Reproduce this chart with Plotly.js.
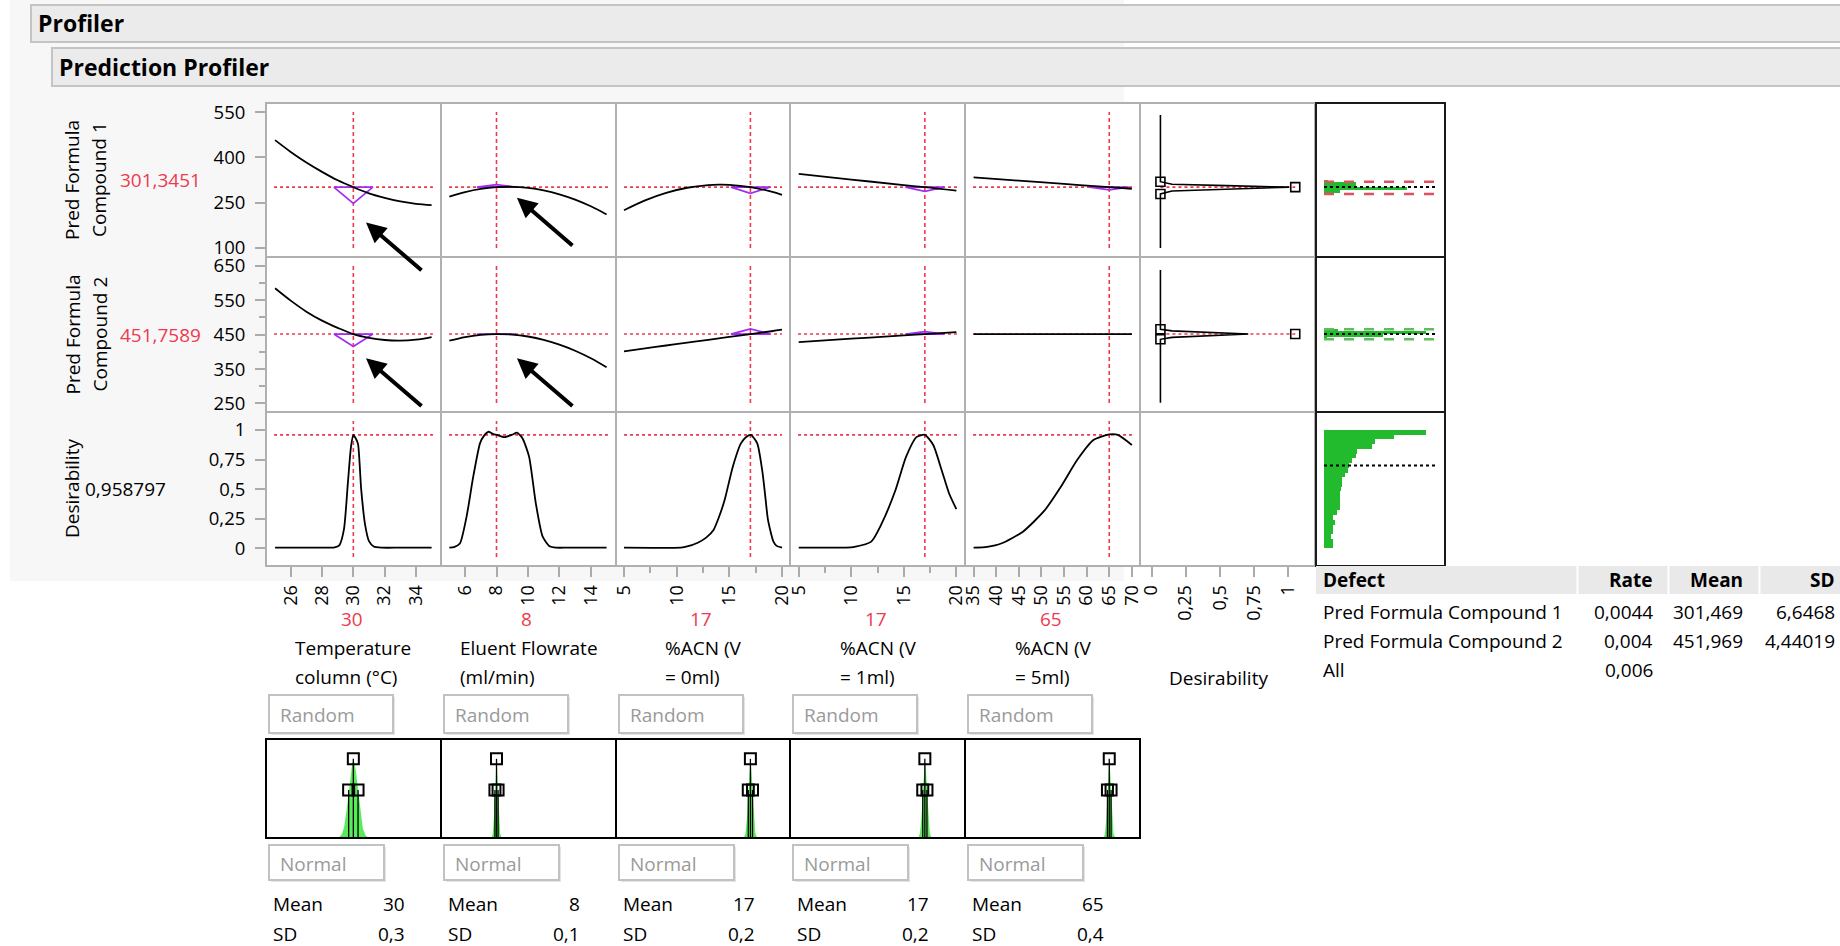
<!DOCTYPE html>
<html>
<head>
<meta charset="utf-8">
<script src="https://cdn.plot.ly/plotly-3.0.1.min.js"></script>
<style>
  html, body { margin: 0; padding: 0; background: #ffffff; }
  #chart { width: 1840px; height: 946px; }
</style>
</head>
<body>
<div id="chart"></div>
<script>
// ---------------- factors ----------------
const factorLine1 = ['Temperature', 'Eluent Flowrate', '%ACN (V', '%ACN (V', '%ACN (V'];
const factorLine2 = ['column (°C)', '(ml/min)', '= 0ml)', '= 1ml)', '= 5ml)'];
const currentX = [30, 8, 17, 17, 65];
const currentText = ['30', '8', '17', '17', '65'];
const simMean = [30, 8, 17, 17, 65];
const simSD = [0.3, 0.1, 0.2, 0.2, 0.4];
const simMeanText = ['30', '8', '17', '17', '65'];
const simSDText = ['0,3', '0,1', '0,2', '0,2', '0,4'];

// ---------------- responses ----------------
const responseLine1 = ['Pred Formula', 'Pred Formula', 'Desirability'];
const responseLine2 = ['Compound 1', 'Compound 2', ''];
const responseValue = [301.3451, 451.7589, 0.958797];
const responseText = ['301,3451', '451,7589', '0,958797'];

// ---------------- prediction traces ----------------
const c1X = [25, 26, 27, 28, 29, 30, 31, 32, 33, 34, 35];
const c1Comp1 = [457, 418, 383, 352, 324, 301.3, 281, 266, 254, 246, 242];
const c1Comp2 = [585, 549, 517, 491, 470, 451.8, 441, 434.5, 432.5, 435.5, 443];

const c2X = [5, 6, 7, 8, 9, 10, 11, 12, 13, 14, 15];
const c2Comp1 = [270, 285, 295.5, 301.3, 302.4, 298.8, 290.6, 277.7, 260.1, 237.9, 211];
const c2Comp2 = [432.5, 443, 449.5, 451.8, 450.4, 444.7, 435, 421, 403.3, 381.3, 355];

const c3X = [5, 7, 9, 11, 13, 14, 15, 17, 19, 20];
const c3Comp1 = [225, 257.7, 282.5, 299.3, 308.1, 309.5, 308.9, 301.3, 286.5, 276];
const c3Comp2 = [401.5, 410, 418.5, 427, 435, 439, 443.5, 451.8, 460, 464.5];

const c4X = [5, 10, 15, 17, 20];
const c4Comp1 = [345, 326.5, 308, 301.3, 289.5];
const c4Comp2 = [428.6, 438.3, 448, 451.8, 457.7];

const c5X = [35, 45, 55, 65, 70];
const c5Comp1 = [334, 323, 312, 301.3, 296];
const c5Comp2 = [451.8, 451.8, 451.8, 451.8, 451.8];

// desirability traces
const d1X = [25, 26, 27, 28, 28.8, 29.1, 29.4, 29.65, 29.85, 30, 30.15, 30.3, 30.5, 30.75, 31, 31.3, 31.8, 33, 35];
const d1Y = [0.005, 0.005, 0.005, 0.005, 0.008, 0.025, 0.16, 0.55, 0.86, 0.959, 0.93, 0.88, 0.5, 0.2, 0.06, 0.015, 0.005, 0.005, 0.005];
const d2X = [5, 5.3, 5.67, 6.1, 6.52, 6.95, 7.2, 7.5, 7.8, 8.03, 8.5, 9.0, 9.3, 9.65, 10.07, 10.5, 10.93, 11.35, 11.8, 12.5, 15];
const d2Y = [0.005, 0.01, 0.04, 0.27, 0.605, 0.887, 0.95, 0.985, 0.965, 0.959, 0.94, 0.96, 0.977, 0.93, 0.775, 0.38, 0.10, 0.02, 0.005, 0.005, 0.005];
const d3X = [5, 10.4, 11, 12, 12.8, 13.5, 14, 14.56, 15.33, 16.1, 16.6, 17.03, 17.65, 18.16, 18.4, 18.67, 19.19, 19.5, 20];
const d3Y = [0.005, 0.006, 0.015, 0.047, 0.09, 0.155, 0.26, 0.41, 0.69, 0.887, 0.94, 0.959, 0.887, 0.634, 0.45, 0.24, 0.056, 0.02, 0.005];
const d4X = [5, 9.5, 10.3, 11.9, 12.9, 14.2, 15.2, 16.2, 17.0, 17.8, 18.6, 19.3, 20];
const d4Y = [0.005, 0.006, 0.012, 0.056, 0.21, 0.49, 0.77, 0.94, 0.959, 0.873, 0.66, 0.465, 0.33];
const d5X = [35, 38, 41.1, 45.9, 50.7, 54.3, 57.9, 61.5, 65, 66.9, 70];
const d5Y = [0.005, 0.012, 0.04, 0.14, 0.32, 0.52, 0.746, 0.915, 0.962, 0.958, 0.873];

// desirability functions (desirability vs response)
const dfComp1Resp = [100, 278.7, 288.6, 295.5, 301.3, 306.5, 310.8, 319.4, 540];
const dfComp1Des  = [0.065, 0.065, 0.15, 0.55, 1.01, 0.55, 0.15, 0.065, 0.065];
const dfComp2Resp = [252, 436.5, 442, 451.8, 461, 465.6, 638];
const dfComp2Des  = [0.065, 0.065, 0.15, 0.71, 0.15, 0.065, 0.065];
const dfHandleDes = [0.065, 0.065, 1.055];
const specComp1 = [278.7, 301.3, 319.4];   // low, target, high
const specComp2 = [436.5, 451.8, 465.6];

// simulated distributions
const histComp1Mid = [287.5, 296.5, 305.5, 314, 322];
const histComp1Cnt = [16, 83, 32, 32, 3.5];
const histComp1Bin = 8.6;
const histComp2Mid = [440.2, 448, 455.9, 463.6];
const histComp2Cnt = [3, 59, 102, 14];
const histComp2Bin = 7.8;
const simMeanComp = [301.469, 451.969];
const histDesMid = [0.98, 0.94, 0.90, 0.86, 0.82, 0.78, 0.74, 0.70, 0.66, 0.62, 0.58, 0.54, 0.50, 0.46, 0.42, 0.38, 0.34, 0.30, 0.26, 0.22, 0.18, 0.14, 0.10, 0.06, 0.02];
const histDesCnt = [102, 70, 51, 48, 33, 32, 28, 25, 24, 21, 18, 18, 17, 16, 16, 16, 16, 13, 9, 11, 9, 9, 7, 9, 9];
const histDesBin = 0.04;
const simMeanDes = 0.70;

// defect table
const tableHead = ['Defect', 'Rate', 'Mean', 'SD'];
const tableRows = [
  ['Pred Formula Compound 1', '0,0044', '301,469', '6,6468'],
  ['Pred Formula Compound 2', '0,004', '451,969', '4,44019'],
  ['All', '0,006', '', '']
];

// ---------------- geometry ----------------
const W = 1840, H = 946;
const FONT = '"Open Sans", "Segoe UI", sans-serif';
const fx = p => p / W;
const fy = p => 1 - p / H;
const panelLeft  = [266, 441, 616, 790, 965, 1140, 1316];
const panelRight = [441, 616, 790, 965, 1140, 1315, 1445];
const rowTop = [103, 257, 412];
const rowBottom = [257, 412, 566];
const simTop = 739, simBottom = 838;

const xRanges = [[24.42, 35.6], [4.47, 15.6], [4.24, 20.76], [4.17, 20.82], [33.1, 71.8], [-0.085, 1.2], [-8, 121]];
const yRanges = [[70, 580], [225, 676], [-0.15, 1.152], [0, 1]];
const xTicks = [[26, 28, 30, 32, 34], [6, 8, 10, 12, 14], [5, 10, 15, 20], [5, 10, 15, 20],
                [35, 40, 45, 50, 55, 60, 65, 70], [0, 0.25, 0.5, 0.75, 1]];
const xMinor = [null, null, [7.5, 12.5, 17.5], [7.5, 12.5, 17.5], null, null];
const yTicks = [[100, 250, 400, 550], [250, 350, 450, 550, 650], [0, 0.25, 0.5, 0.75, 1]];
const yMinor = [null, [300, 400, 500, 600], null];

const xId = c => c === 0 ? 'x' : 'x' + (c + 1);
const yId = r => r === 0 ? 'y' : 'y' + (r + 1);

const profX = [c1X, c2X, c3X, c4X, c5X];
const profY = [[c1Comp1, c2Comp1, c3Comp1, c4Comp1, c5Comp1], [c1Comp2, c2Comp2, c3Comp2, c4Comp2, c5Comp2]];
const desX = [d1X, d2X, d3X, d4X, d5X];
const desY = [d1Y, d2Y, d3Y, d4Y, d5Y];

const RED = '#ee3a4f';
const PURPLE = '#a32cf2';
const GREEN = '#22bb2e';
const data = [];
const shapes = [];
const annotations = [];

// page background and headers
shapes.push({type: 'rect', xref: 'paper', yref: 'paper', layer: 'below',
  x0: fx(10), x1: fx(1124), y0: fy(581), y1: fy(0), fillcolor: '#f7f7f7', line: {width: 0}});
shapes.push({type: 'rect', xref: 'paper', yref: 'paper', layer: 'below',
  x0: fx(31), x1: fx(1845), y0: fy(42), y1: fy(5), fillcolor: '#ebebeb', line: {color: '#c4c4c4', width: 2}});
shapes.push({type: 'rect', xref: 'paper', yref: 'paper', layer: 'below',
  x0: fx(52), x1: fx(1845), y0: fy(86), y1: fy(48), fillcolor: '#ebebeb', line: {color: '#c4c4c4', width: 2}});
annotations.push({xref: 'paper', yref: 'paper', x: fx(36), y: fy(23), xanchor: 'left', yanchor: 'middle',
  text: '<b>Profiler</b>', showarrow: false, font: {family: FONT, size: 23, color: '#000'}});
annotations.push({xref: 'paper', yref: 'paper', x: fx(57), y: fy(67), xanchor: 'left', yanchor: 'middle',
  text: '<b>Prediction Profiler</b>', showarrow: false, font: {family: FONT, size: 23, color: '#000'}});

// panel backgrounds
for (let r = 0; r < 3; r++) {
  for (let c = 0; c < 7; c++) {
    shapes.push({type: 'rect', xref: 'paper', yref: 'paper', layer: 'below',
      x0: fx(panelLeft[c]), x1: fx(panelRight[c]), y0: fy(rowBottom[r]), y1: fy(rowTop[r]),
      fillcolor: '#ffffff', line: {width: 0}});
  }
}
shapes.push({type: 'rect', xref: 'paper', yref: 'paper', layer: 'below',
  x0: fx(panelLeft[0]), x1: fx(panelRight[4]), y0: fy(simBottom), y1: fy(simTop), fillcolor: '#ffffff', line: {width: 0}});

// ---------------- axes ----------------
const layout = {
  width: W, height: H,
  margin: {l: 0, r: 0, t: 0, b: 0},
  paper_bgcolor: '#ffffff', plot_bgcolor: 'rgba(0,0,0,0)',
  separators: ',.',
  showlegend: false,
  font: {family: FONT, size: 19, color: '#000'}
};
for (let c = 0; c < 7; c++) {
  const ax = {
    domain: [fx(panelLeft[c]), fx(panelRight[c])],
    range: xRanges[c], anchor: 'y3',
    showgrid: false, zeroline: false, showline: false, fixedrange: true
  };
  if (c < 6) {
    Object.assign(ax, {
      tickmode: 'array', tickvals: xTicks[c], ticks: 'outside', ticklen: 10, tickwidth: 2, tickcolor: '#ababab',
      tickangle: -90, tickfont: {family: FONT, size: 18, color: '#000'}, ticklabelstandoff: 1
    });
    if (xMinor[c]) ax.minor = {tickvals: xMinor[c], ticks: 'outside', ticklen: 6, tickwidth: 2, tickcolor: '#ababab', showgrid: false};
  } else {
    ax.visible = false;
  }
  layout[c === 0 ? 'xaxis' : 'xaxis' + (c + 1)] = ax;
}
const rowDomains = [[rowBottom[0], rowTop[0]], [rowBottom[1], rowTop[1]], [rowBottom[2], rowTop[2]], [simBottom, simTop]];
for (let r = 0; r < 4; r++) {
  const ay = {
    domain: [fy(rowDomains[r][0]), fy(rowDomains[r][1])],
    range: yRanges[r], anchor: 'x',
    showgrid: false, zeroline: false, showline: false, fixedrange: true
  };
  if (r < 3) {
    Object.assign(ay, {
      tickmode: 'array', tickvals: yTicks[r], ticks: 'outside', ticklen: 10, tickwidth: 2, tickcolor: '#ababab',
      tickfont: {family: FONT, size: 18.5, color: '#000'}, ticklabelstandoff: 6
    });
    if (yMinor[r]) ay.minor = {tickvals: yMinor[r], ticks: 'outside', ticklen: 6, tickwidth: 2, tickcolor: '#ababab', showgrid: false};
  } else {
    ay.visible = false;
  }
  layout[r === 0 ? 'yaxis' : 'yaxis' + (r + 1)] = ay;
}

// ---------------- reference lines ----------------
for (let c = 0; c < 5; c++) {
  for (let r = 0; r < 3; r++) {
    shapes.push({type: 'line', xref: xId(c), yref: yId(r) + ' domain', layer: 'below',
      x0: currentX[c], x1: currentX[c], y0: 0.058, y1: 0.942,
      line: {color: RED, width: 1.6, dash: '4px,3px'}});
    shapes.push({type: 'line', xref: xId(c) + ' domain', yref: yId(r), layer: 'below',
      x0: 0.046, x1: 0.954, y0: responseValue[r], y1: responseValue[r],
      line: {color: RED, width: 1.6, dash: '3px,3px'}});
  }
}

// ---------------- profile curves and sensitivity indicators ----------------
function slopeAt(xs, ys, x0) {
  let i = xs.indexOf(x0);
  if (i > 0 && i < xs.length - 1) return (ys[i + 1] - ys[i - 1]) / (xs[i + 1] - xs[i - 1]);
  for (let k = 0; k < xs.length - 1; k++) {
    if (x0 >= xs[k] && x0 <= xs[k + 1]) return (ys[k + 1] - ys[k]) / (xs[k + 1] - xs[k]);
  }
  return 0;
}
for (let r = 0; r < 2; r++) {
  for (let c = 0; c < 5; c++) {
    const xs = profX[c], ys = profY[r][c];
    const slope = slopeAt(xs, ys, currentX[c]);
    if (Math.abs(slope) > 1e-9) {
      const pxPerX = (panelRight[c] - panelLeft[c]) / (xRanges[c][1] - xRanges[c][0]);
      const w = 39 / pxPerX;
      const x0 = currentX[c], y0 = responseValue[r];
      data.push({type: 'scatter', mode: 'lines', xaxis: xId(c), yaxis: yId(r),
        x: [x0 - w / 2, x0 + w / 2, x0, x0 - w / 2],
        y: [y0, y0, y0 + slope * w, y0],
        line: {color: PURPLE, width: 1.7}, hoverinfo: 'skip'});
    }
    data.push({type: 'scatter', mode: 'lines', xaxis: xId(c), yaxis: yId(r),
      x: xs, y: ys, line: {color: '#000', width: 1.8, shape: 'spline', smoothing: 1}, hoverinfo: 'skip'});
  }
}
for (let c = 0; c < 5; c++) {
  data.push({type: 'scatter', mode: 'lines', xaxis: xId(c), yaxis: 'y3',
    x: desX[c], y: desY[c], line: {color: '#000', width: 1.8, shape: 'spline', smoothing: 0.6}, hoverinfo: 'skip'});
}

// ---------------- desirability functions ----------------
const dfResp = [dfComp1Resp, dfComp2Resp];
const dfDes = [dfComp1Des, dfComp2Des];
const specs = [specComp1, specComp2];
for (let r = 0; r < 2; r++) {
  shapes.push({type: 'line', xref: 'x6', yref: yId(r), layer: 'below',
    x0: dfHandleDes[0], x1: dfHandleDes[2], y0: responseValue[r], y1: responseValue[r],
    line: {color: RED, width: 1.6, dash: '3px,3px'}});
  data.push({type: 'scatter', mode: 'lines', xaxis: 'x6', yaxis: yId(r),
    x: dfDes[r], y: dfResp[r], line: {color: '#000', width: 1.6}, hoverinfo: 'skip'});
  data.push({type: 'scatter', mode: 'markers', xaxis: 'x6', yaxis: yId(r),
    x: dfHandleDes, y: [specs[r][0], specs[r][2], specs[r][1]],
    marker: {symbol: 'square-open', size: 9, color: '#000', line: {width: 1.6}}, hoverinfo: 'skip'});
}

// ---------------- simulated output distributions ----------------
const histMid = [histComp1Mid, histComp2Mid];
const histCnt = [histComp1Cnt, histComp2Cnt];
const histBin = [histComp1Bin, histComp2Bin];
const specColor = ['#e0505e', '#5cbf5c'];
for (let r = 0; r < 2; r++) {
  data.push({type: 'bar', orientation: 'h', xaxis: 'x7', yaxis: yId(r),
    y: histMid[r], x: histCnt[r], width: histBin[r], base: 0,
    marker: {color: GREEN, line: {width: 0}}, hoverinfo: 'skip'});
  [specs[r][0], specs[r][2]].forEach(v => shapes.push({type: 'line', xref: 'x7', yref: yId(r),
    x0: 0, x1: 116, y0: v, y1: v, line: {color: specColor[r], width: 2.5, dash: '10px,10px'}}));
  shapes.push({type: 'line', xref: 'x7', yref: yId(r), x0: 0, x1: 112, y0: simMeanComp[r], y1: simMeanComp[r],
    line: {color: '#000', width: 2, dash: '3px,3px'}});
}
data.push({type: 'bar', orientation: 'h', xaxis: 'x7', yaxis: 'y3',
  y: histDesMid, x: histDesCnt, width: histDesBin, base: 0,
  marker: {color: GREEN, line: {width: 0}}, hoverinfo: 'skip'});
shapes.push({type: 'line', xref: 'x7', yref: 'y3', x0: 0, x1: 112, y0: simMeanDes, y1: simMeanDes,
  line: {color: '#000', width: 2, dash: '3px,3px'}});

// ---------------- panel frames ----------------
for (let r = 0; r < 3; r++) {
  for (let c = 0; c < 7; c++) {
    shapes.push({type: 'rect', xref: 'paper', yref: 'paper', layer: 'above',
      x0: fx(panelLeft[c]), x1: fx(panelRight[c]), y0: fy(rowBottom[r]), y1: fy(rowTop[r]),
      line: {color: c === 6 ? '#1a1a1a' : '#b0b0b0', width: 2}});
  }
}

// ---------------- simulator input panels ----------------
for (let c = 0; c < 5; c++) {
  const m = simMean[c], s = simSD[c];
  const xs = [], ys = [];
  for (let k = -40; k <= 40; k++) {
    const z = k / 10;
    xs.push(m + z * s);
    ys.push(0.78 * Math.exp(-z * z / 2));
  }
  data.push({type: 'scatter', mode: 'lines', xaxis: xId(c), yaxis: 'y4', x: xs, y: ys,
    fill: 'tozeroy', fillcolor: 'rgba(60,232,60,0.85)', line: {width: 0}, hoverinfo: 'skip'});
  const hx = [m - s, m, m + s];
  const hy = [0.485, 0.8, 0.485];
  for (let k = 0; k < 3; k++) {
    data.push({type: 'scatter', mode: 'lines', xaxis: xId(c), yaxis: 'y4',
      x: [hx[k], hx[k]], y: [hy[k], 0], line: {color: '#000', width: 1.3}, hoverinfo: 'skip'});
  }
  data.push({type: 'scatter', mode: 'markers', xaxis: xId(c), yaxis: 'y4', x: hx, y: hy,
    marker: {symbol: 'square-open', size: 11, color: '#000', line: {width: 2}}, hoverinfo: 'skip'});
  shapes.push({type: 'rect', xref: 'paper', yref: 'paper', layer: 'above',
    x0: fx(panelLeft[c]), x1: fx(panelRight[c]), y0: fy(simBottom), y1: fy(simTop),
    line: {color: '#000', width: 2}});
}

// ---------------- text ----------------
const ctx = document.createElement('canvas').getContext('2d');
function textWidth(s, size) { ctx.font = size + 'px "Open Sans"'; return ctx.measureText(s).width; }
function label(text, x, y, opts) {
  annotations.push(Object.assign({xref: 'paper', yref: 'paper', x: fx(x), y: fy(y), text: text,
    showarrow: false, xanchor: 'center', yanchor: 'middle',
    font: {family: FONT, size: 19, color: '#000'}}, opts || {}));
}

// response labels
for (let r = 0; r < 3; r++) {
  const cy = (rowTop[r] + rowBottom[r]) / 2;
  if (responseLine2[r]) {
    label(responseLine1[r], 72, cy, {textangle: -90});
    label(responseLine2[r], 99, cy, {textangle: -90});
    label(responseText[r], 160, cy, {font: {family: FONT, size: 19, color: RED}});
  } else {
    label(responseLine1[r], 72, cy, {textangle: -90});
    label(responseText[r], 125, cy);
  }
}

// factor labels, current values and simulator settings
for (let c = 0; c < 5; c++) {
  const cx = (panelLeft[c] + panelRight[c]) / 2 - 2;
  label(currentText[c], cx, 619, {font: {family: FONT, size: 19, color: RED}});
  const bw = Math.max(textWidth(factorLine1[c], 19), textWidth(factorLine2[c], 19));
  label(factorLine1[c], cx - bw / 2, 648, {xanchor: 'left'});
  label(factorLine2[c], cx - bw / 2, 677, {xanchor: 'left'});
  const bx = panelLeft[c] + 3;
  shapes.push({type: 'rect', xref: 'paper', yref: 'paper', x0: fx(bx + 2), x1: fx(bx + 126), y0: fy(735), y1: fy(697),
    fillcolor: '#e4e4e4', line: {width: 0}, layer: 'below'});
  shapes.push({type: 'rect', xref: 'paper', yref: 'paper', x0: fx(bx), x1: fx(bx + 124), y0: fy(733), y1: fy(695),
    fillcolor: '#ffffff', line: {color: '#c2c2c2', width: 2}, layer: 'below'});
  label('Random', bx + 9, 715, {xanchor: 'left', font: {family: FONT, size: 19, color: '#9a9a9a'}});
  shapes.push({type: 'rect', xref: 'paper', yref: 'paper', x0: fx(bx + 2), x1: fx(bx + 117), y0: fy(882), y1: fy(847),
    fillcolor: '#e4e4e4', line: {width: 0}, layer: 'below'});
  shapes.push({type: 'rect', xref: 'paper', yref: 'paper', x0: fx(bx), x1: fx(bx + 115), y0: fy(880), y1: fy(845),
    fillcolor: '#ffffff', line: {color: '#c2c2c2', width: 2}, layer: 'below'});
  label('Normal', bx + 9, 864, {xanchor: 'left', font: {family: FONT, size: 19, color: '#9a9a9a'}});
  label('Mean', panelLeft[c] + 5, 904, {xanchor: 'left'});
  label(simMeanText[c], panelLeft[c] + 141, 904, {xanchor: 'right'});
  label('SD', panelLeft[c] + 5, 934, {xanchor: 'left'});
  label(simSDText[c], panelLeft[c] + 141, 934, {xanchor: 'right'});
}
label('Desirability', 1218, 678);

// arrows pointing at the sensitivity indicators
const arrowTips = [
  {xa: 'x', ya: 'y', x: 30.81, y: 184},
  {xa: 'x2', ya: 'y', x: 9.3, y: 266.4},
  {xa: 'x', ya: 'y2', x: 30.81, y: 381.3},
  {xa: 'x2', ya: 'y2', x: 9.3, y: 381.3}
];
arrowTips.forEach(a => annotations.push({xref: a.xa, yref: a.ya, x: a.x, y: a.y, text: '',
  showarrow: true, ax: 57, ay: 49, arrowhead: 2, arrowsize: 1, arrowwidth: 4, arrowcolor: '#000', standoff: 0}));

// defect table
shapes.push({type: 'rect', xref: 'paper', yref: 'paper', x0: fx(1316), x1: fx(1845), y0: fy(594), y1: fy(566),
  fillcolor: '#e9e9e9', line: {width: 0}});
[1577.5, 1668.5, 1759.5].forEach(x => shapes.push({type: 'line', xref: 'paper', yref: 'paper',
  x0: fx(x), x1: fx(x), y0: fy(594), y1: fy(566), line: {color: '#ffffff', width: 2}}));
const tableRight = [null, 1655, 1745, 1837];
const tableRowY = [612, 641, 670];
tableHead.forEach((t, i) => label('<b>' + t + '</b>', i === 0 ? 1321 : tableRight[i], 580,
  {xanchor: i === 0 ? 'left' : 'right'}));
tableRows.forEach((row, j) => row.forEach((t, i) => {
  if (t) label(t, i === 0 ? 1321 : tableRight[i], tableRowY[j], {xanchor: i === 0 ? 'left' : 'right'});
}));

layout.shapes = shapes;
layout.annotations = annotations;
layout.bargap = 0;

Plotly.newPlot('chart', data, layout, {staticPlot: true, displayModeBar: false});
</script>
</body>
</html>
